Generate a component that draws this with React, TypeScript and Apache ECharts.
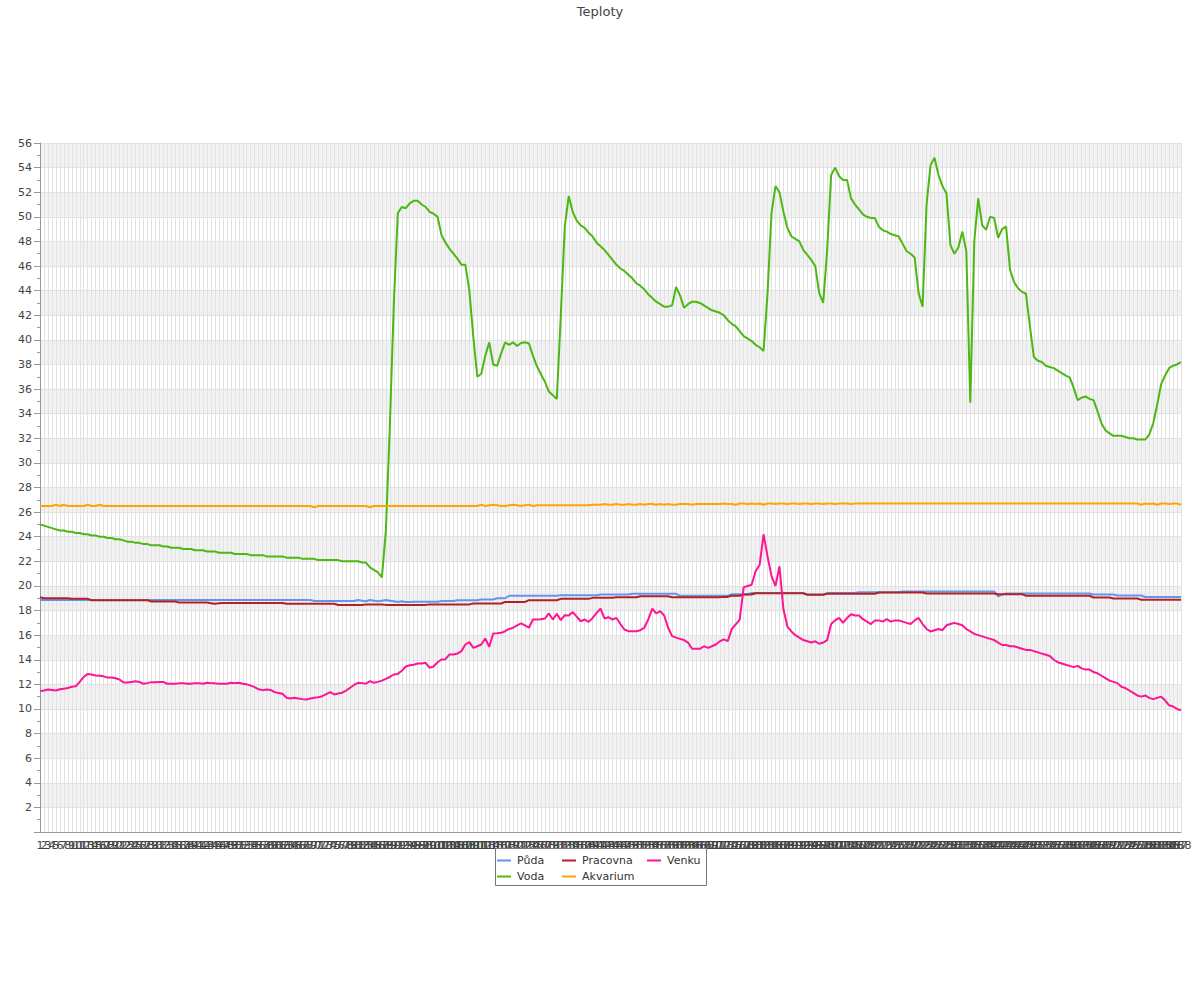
import React, { useEffect, useRef } from "react";
import * as echarts from "echarts";

const categories: string[] = Array.from({ length: 288 }, (_, i) => String(i + 1));
const yTicks = { min: 0, max: 56, interval: 2 };

const puda: number[] = [
  18.85,18.85,18.85,18.85,18.85,18.85,18.85,18.85,18.85,18.85,18.85,18.85,
  18.85,18.85,18.85,18.85,18.85,18.85,18.85,18.85,18.85,18.85,18.85,18.85,
  18.85,18.85,18.85,18.85,18.85,18.85,18.85,18.85,18.85,18.85,18.85,18.85,
  18.85,18.85,18.85,18.85,18.85,18.85,18.85,18.85,18.85,18.85,18.85,18.85,
  18.85,18.85,18.85,18.85,18.85,18.85,18.85,18.85,18.85,18.85,18.85,18.85,
  18.85,18.85,18.85,18.85,18.85,18.85,18.85,18.85,18.85,18.78,18.78,18.78,
  18.78,18.78,18.78,18.78,18.78,18.78,18.78,18.78,18.85,18.8,18.75,18.85,
  18.8,18.75,18.8,18.85,18.8,18.75,18.7,18.75,18.7,18.7,18.72,18.72,
  18.72,18.72,18.72,18.72,18.72,18.78,18.78,18.78,18.78,18.84,18.84,18.84,
  18.84,18.84,18.84,18.9,18.9,18.9,18.9,19.0,19.0,19.0,19.2,19.2,
  19.2,19.2,19.2,19.2,19.2,19.2,19.2,19.2,19.2,19.2,19.2,19.25,
  19.25,19.25,19.25,19.25,19.25,19.25,19.25,19.25,19.25,19.3,19.3,19.3,
  19.3,19.3,19.3,19.3,19.3,19.36,19.36,19.36,19.36,19.36,19.36,19.36,
  19.36,19.36,19.36,19.36,19.36,19.2,19.2,19.2,19.2,19.2,19.2,19.2,
  19.2,19.2,19.2,19.2,19.2,19.2,19.33,19.33,19.33,19.33,19.33,19.42,
  19.42,19.42,19.42,19.42,19.42,19.42,19.42,19.42,19.42,19.42,19.42,19.42,
  19.42,19.3,19.3,19.3,19.3,19.3,19.42,19.42,19.42,19.42,19.42,19.42,
  19.42,19.42,19.48,19.48,19.48,19.48,19.48,19.48,19.48,19.48,19.48,19.48,
  19.48,19.55,19.55,19.55,19.55,19.55,19.55,19.55,19.55,19.55,19.55,19.55,
  19.55,19.55,19.55,19.55,19.55,19.55,19.55,19.55,19.55,19.55,19.55,19.55,
  19.55,19.15,19.3,19.38,19.38,19.38,19.38,19.38,19.38,19.38,19.38,19.38,
  19.38,19.38,19.38,19.38,19.38,19.38,19.38,19.38,19.38,19.38,19.38,19.38,
  19.38,19.3,19.3,19.3,19.3,19.3,19.3,19.22,19.22,19.22,19.22,19.22,
  19.22,19.22,19.1,19.1,19.1,19.1,19.1,19.1,19.1,19.1,19.1,19.1,
];

const voda: number[] = [
  25.0,24.9,24.8,24.7,24.6,24.5,24.5,24.4,24.4,24.3,
  24.3,24.2,24.2,24.1,24.1,24.0,24.0,23.9,23.9,23.8,
  23.8,23.7,23.6,23.6,23.5,23.5,23.4,23.4,23.3,23.3,
  23.3,23.2,23.2,23.1,23.1,23.1,23.0,23.0,23.0,22.9,
  22.9,22.9,22.8,22.8,22.8,22.7,22.7,22.7,22.7,22.6,
  22.6,22.6,22.6,22.5,22.5,22.5,22.5,22.4,22.4,22.4,
  22.4,22.4,22.3,22.3,22.3,22.3,22.2,22.2,22.2,22.2,
  22.1,22.1,22.1,22.1,22.1,22.1,22.0,22.0,22.0,22.0,
  22.0,21.9,21.9,21.5,21.3,21.1,20.7,24.5,33.0,43.0,
  50.3,50.8,50.7,51.1,51.3,51.3,51.0,50.8,50.4,50.25,
  50.0,48.5,47.9,47.4,47.0,46.6,46.1,46.1,44.0,40.2,
  37.0,37.25,38.7,39.8,38.0,37.9,38.9,39.8,39.6,39.8,
  39.5,39.75,39.8,39.7,38.7,37.85,37.2,36.6,35.8,35.5,
  35.2,42.0,49.2,51.7,50.4,49.7,49.3,49.1,48.7,48.4,
  47.9,47.6,47.3,46.9,46.5,46.1,45.8,45.6,45.3,45.0,
  44.6,44.4,44.1,43.7,43.4,43.1,42.9,42.7,42.7,42.8,
  44.3,43.6,42.6,42.9,43.1,43.1,43.0,42.8,42.6,42.4,
  42.3,42.2,42.0,41.6,41.3,41.1,40.7,40.3,40.1,39.9,
  39.6,39.4,39.1,43.8,50.3,52.5,52.0,50.4,49.1,48.4,
  48.2,48.0,47.3,46.9,46.5,46.0,43.8,43.0,47.3,53.4,
  54.0,53.3,53.0,53.0,51.5,51.0,50.6,50.2,50.0,49.9,
  49.9,49.2,48.9,48.8,48.6,48.5,48.4,47.8,47.2,47.0,
  46.7,43.8,42.7,51.0,54.2,54.8,53.4,52.5,51.9,47.7,
  47.0,47.5,48.8,47.2,34.9,48.0,51.5,49.3,48.95,50.0,
  49.9,48.3,49.0,49.2,45.7,44.7,44.2,43.9,43.75,41.1,
  38.6,38.3,38.2,37.9,37.8,37.7,37.5,37.3,37.1,36.95,
  36.1,35.1,35.3,35.4,35.2,35.1,34.2,33.2,32.65,32.4,
  32.2,32.2,32.2,32.1,32.0,32.0,31.9,31.9,31.9,32.3,
  33.2,34.7,36.4,37.1,37.7,37.9,38.0,38.2,
];

const pracovna: number[] = [
  19.08,19.0,19.0,19.0,19.0,19.0,19.0,19.0,18.95,18.95,18.95,18.95,
  18.95,18.84,18.84,18.84,18.84,18.84,18.84,18.84,18.84,18.84,18.84,18.84,
  18.84,18.84,18.84,18.84,18.73,18.73,18.73,18.73,18.73,18.73,18.73,18.65,
  18.65,18.65,18.65,18.65,18.65,18.65,18.65,18.6,18.55,18.6,18.62,18.62,
  18.62,18.62,18.62,18.62,18.62,18.62,18.62,18.62,18.62,18.62,18.62,18.62,
  18.62,18.62,18.55,18.55,18.55,18.55,18.55,18.55,18.55,18.55,18.55,18.55,
  18.55,18.55,18.55,18.45,18.45,18.45,18.45,18.45,18.45,18.45,18.5,18.5,
  18.5,18.5,18.5,18.46,18.46,18.46,18.46,18.46,18.46,18.46,18.46,18.46,
  18.46,18.46,18.5,18.5,18.5,18.5,18.5,18.5,18.5,18.5,18.5,18.5,
  18.5,18.57,18.57,18.57,18.57,18.57,18.57,18.57,18.57,18.7,18.7,18.7,
  18.7,18.7,18.7,18.84,18.84,18.84,18.84,18.84,18.84,18.84,18.84,18.95,
  18.95,18.95,18.95,18.95,18.95,18.95,18.95,19.03,19.03,19.03,19.03,19.03,
  19.03,19.08,19.08,19.08,19.08,19.08,19.08,19.16,19.16,19.16,19.16,19.16,
  19.16,19.16,19.16,19.08,19.08,19.08,19.08,19.08,19.08,19.08,19.08,19.08,
  19.08,19.08,19.08,19.08,19.11,19.11,19.2,19.2,19.2,19.3,19.3,19.3,
  19.4,19.4,19.4,19.4,19.4,19.4,19.4,19.4,19.4,19.4,19.4,19.4,
  19.4,19.28,19.28,19.28,19.28,19.28,19.36,19.36,19.36,19.36,19.36,19.36,
  19.36,19.36,19.36,19.36,19.36,19.36,19.36,19.46,19.46,19.46,19.46,19.46,
  19.46,19.46,19.46,19.46,19.46,19.46,19.46,19.38,19.38,19.38,19.38,19.38,
  19.38,19.38,19.38,19.38,19.38,19.38,19.38,19.38,19.38,19.38,19.38,19.38,
  19.38,19.33,19.33,19.33,19.33,19.33,19.33,19.33,19.2,19.2,19.2,19.2,
  19.2,19.2,19.2,19.2,19.2,19.2,19.2,19.2,19.2,19.2,19.2,19.2,
  19.2,19.06,19.06,19.06,19.06,19.06,18.98,18.98,18.98,18.98,18.98,18.98,
  18.98,18.88,18.88,18.88,18.88,18.88,18.88,18.88,18.88,18.88,18.88,18.88,
];

const akvarium: number[] = [
  26.5,26.5,26.5,26.5,26.6,26.5,26.6,26.5,26.5,26.5,26.5,26.5,
  26.6,26.5,26.5,26.6,26.5,26.5,26.5,26.5,26.5,26.5,26.5,26.5,
  26.5,26.5,26.5,26.5,26.5,26.5,26.5,26.5,26.5,26.5,26.5,26.5,
  26.5,26.5,26.5,26.5,26.5,26.5,26.5,26.5,26.5,26.5,26.5,26.5,
  26.5,26.5,26.5,26.5,26.5,26.5,26.5,26.5,26.5,26.5,26.5,26.5,
  26.5,26.5,26.5,26.5,26.5,26.5,26.5,26.5,26.5,26.4,26.5,26.5,
  26.5,26.5,26.5,26.5,26.5,26.5,26.5,26.5,26.5,26.5,26.5,26.4,
  26.5,26.5,26.5,26.5,26.5,26.5,26.5,26.5,26.5,26.5,26.5,26.5,
  26.5,26.5,26.5,26.5,26.5,26.5,26.5,26.5,26.5,26.5,26.5,26.5,
  26.5,26.5,26.5,26.6,26.5,26.55,26.6,26.55,26.5,26.5,26.55,26.6,
  26.55,26.5,26.55,26.6,26.5,26.55,26.55,26.55,26.55,26.55,26.55,26.55,
  26.55,26.55,26.55,26.55,26.55,26.55,26.55,26.6,26.6,26.6,26.65,26.6,
  26.6,26.65,26.6,26.6,26.65,26.6,26.6,26.65,26.6,26.65,26.65,26.6,
  26.65,26.6,26.65,26.6,26.6,26.65,26.65,26.65,26.6,26.65,26.65,26.65,
  26.65,26.65,26.65,26.65,26.7,26.65,26.65,26.6,26.7,26.7,26.65,26.7,
  26.65,26.7,26.6,26.7,26.7,26.65,26.7,26.7,26.65,26.7,26.7,26.65,
  26.7,26.7,26.65,26.7,26.7,26.65,26.7,26.7,26.65,26.7,26.7,26.7,
  26.65,26.7,26.7,26.7,26.7,26.7,26.7,26.7,26.7,26.7,26.7,26.7,
  26.7,26.7,26.7,26.7,26.7,26.7,26.7,26.7,26.7,26.7,26.7,26.7,
  26.7,26.7,26.7,26.7,26.7,26.7,26.7,26.7,26.7,26.7,26.7,26.7,
  26.7,26.7,26.7,26.7,26.7,26.7,26.7,26.7,26.7,26.7,26.7,26.7,
  26.7,26.7,26.7,26.7,26.7,26.7,26.7,26.7,26.7,26.7,26.7,26.7,
  26.7,26.7,26.7,26.7,26.7,26.7,26.7,26.7,26.7,26.7,26.7,26.7,
  26.7,26.6,26.7,26.65,26.7,26.6,26.7,26.7,26.65,26.7,26.7,26.6,
];

const venku: number[] = [
  11.45,11.5,11.58,11.55,11.5,11.6,11.65,11.7,11.8,11.85,
  12.2,12.6,12.85,12.8,12.72,12.7,12.65,12.55,12.55,12.5,
  12.4,12.15,12.15,12.2,12.25,12.2,12.05,12.1,12.18,12.18,
  12.2,12.2,12.05,12.05,12.05,12.08,12.1,12.05,12.05,12.1,
  12.1,12.05,12.13,12.1,12.08,12.05,12.05,12.05,12.13,12.1,
  12.13,12.05,12.0,11.9,11.77,11.6,11.53,11.58,11.55,11.37,
  11.3,11.23,10.91,10.85,10.91,10.85,10.8,10.77,10.85,10.91,
  10.95,11.04,11.2,11.37,11.18,11.25,11.32,11.5,11.72,11.95,
  12.13,12.1,12.05,12.26,12.13,12.2,12.3,12.45,12.6,12.8,
  12.85,13.1,13.45,13.55,13.6,13.7,13.7,13.75,13.35,13.45,
  13.8,14.02,14.05,14.43,14.43,14.5,14.7,15.24,15.43,14.97,
  15.1,15.24,15.73,15.05,16.13,16.15,16.19,16.32,16.5,16.6,
  16.8,16.95,16.8,16.6,17.27,17.27,17.3,17.35,17.76,17.27,
  17.73,17.22,17.62,17.6,17.87,17.5,17.13,17.27,17.08,17.4,
  17.8,18.16,17.35,17.46,17.27,17.4,16.9,16.46,16.32,16.32,
  16.32,16.4,16.6,17.27,18.16,17.76,17.95,17.6,16.6,15.92,
  15.8,15.7,15.6,15.4,14.89,14.9,14.89,15.1,14.97,15.1,
  15.24,15.5,15.65,15.51,16.5,16.87,17.27,19.9,20.0,20.1,
  21.2,21.7,24.2,22.4,20.8,20.0,21.6,18.1,16.7,16.3,
  16.0,15.8,15.6,15.5,15.4,15.5,15.3,15.4,15.6,16.9,
  17.2,17.4,17.0,17.4,17.7,17.6,17.6,17.3,17.1,16.9,
  17.2,17.2,17.1,17.3,17.1,17.2,17.2,17.1,17.0,16.9,
  17.2,17.4,16.9,16.5,16.3,16.4,16.5,16.4,16.8,16.9,
  17.0,16.9,16.8,16.5,16.3,16.1,16.0,15.9,15.8,15.7,
  15.6,15.4,15.2,15.2,15.1,15.1,15.0,14.9,14.8,14.8,
  14.7,14.6,14.5,14.4,14.3,14.0,13.8,13.7,13.6,13.5,
  13.4,13.5,13.3,13.2,13.2,13.0,12.9,12.7,12.5,12.3,
  12.2,12.1,11.8,11.7,11.5,11.3,11.1,11.0,11.1,10.9,
  10.8,10.9,11.0,10.7,10.3,10.2,10.0,9.9,
];

const seriesDefs = [
  { name: "Půda", data: puda, color: "#6495ed" },
  { name: "Voda", data: voda, color: "#4cb814" },
  { name: "Pracovna", data: pracovna, color: "#b22222" },
  { name: "Akvarium", data: akvarium, color: "#ffa500" },
  { name: "Venku", data: venku, color: "#ff1493" },
];

const legendPos: Record<string, [number, number]> = {
  "Půda": [497, 855],
  "Pracovna": [562, 855],
  "Venku": [647, 855],
  "Voda": [497, 871],
  "Akvarium": [562, 871],
};

export default function App() {
  const ref = useRef<HTMLDivElement>(null);
  useEffect(() => {
    if (!ref.current) return;
    const chart = echarts.init(ref.current, null, { renderer: "svg" });
    const gridColor = "#e2e2e2";
    chart.setOption({
      animation: false,
      backgroundColor: "#ffffff",
      title: {
        text: "Teploty",
        left: "center",
        top: 0,
        textStyle: { fontSize: 13, fontWeight: "normal", color: "#444", fontFamily: "DejaVu Sans" },
      },
      grid: { left: 40, right: 19, top: 143, bottom: 168, containLabel: false },
      xAxis: {
        type: "category",
        data: categories,
        boundaryGap: false,
        axisLine: { show: true, lineStyle: { color: "#999", width: 1 } },
        axisTick: { show: false },
        axisLabel: { interval: 0, fontSize: 11, color: "#444", margin: 8, fontFamily: "DejaVu Sans" },
        splitLine: { show: true, interval: 0, lineStyle: { color: gridColor, width: 1 } },
      },
      yAxis: {
        type: "value",
        min: yTicks.min,
        max: yTicks.max,
        interval: yTicks.interval,
        axisLine: { show: true, lineStyle: { color: "#999", width: 1 } },
        axisTick: { show: true, length: 6, lineStyle: { color: "#999" } },
        minorTick: { show: true, splitNumber: 2, length: 3, lineStyle: { color: "#999" } },
        axisLabel: { showMinLabel: false, fontSize: 11, color: "#444", margin: 8, fontFamily: "DejaVu Sans" },
        splitLine: { show: true, lineStyle: { color: gridColor, width: 1 } },
        splitArea: { show: true, areaStyle: { color: ["#ffffff", "#f2f2f2"] } },
      },
      graphic: [
        {
          type: "rect",
          shape: { x: 495.5, y: 848.5, width: 211, height: 37 },
          style: { fill: "#ffffff", stroke: "#777", lineWidth: 1 },
          z: 3,
        },
      ],
      legend: seriesDefs.map((s) => ({
        data: [s.name],
        left: legendPos[s.name][0],
        top: legendPos[s.name][1],
        orient: "horizontal",
        padding: 0,
        icon: "rect",
        itemWidth: 14,
        itemHeight: 2,
        z: 5,
        textStyle: { fontSize: 11, color: "#333", fontFamily: "DejaVu Sans", padding: [0, 0, 0, 1] },
      })),
      series: seriesDefs.map((s) => ({
        name: s.name,
        type: "line",
        data: s.data,
        showSymbol: false,
        symbol: "none",
        color: s.color,
        lineStyle: { color: s.color, width: 2 },
        emphasis: { disabled: true },
      })),
    });
    return () => chart.dispose();
  }, []);
  return (
    <div
      ref={ref}
      style={{ position: "absolute", left: 0, top: 0, width: 1200, height: 1000 }}
    />
  );
}
